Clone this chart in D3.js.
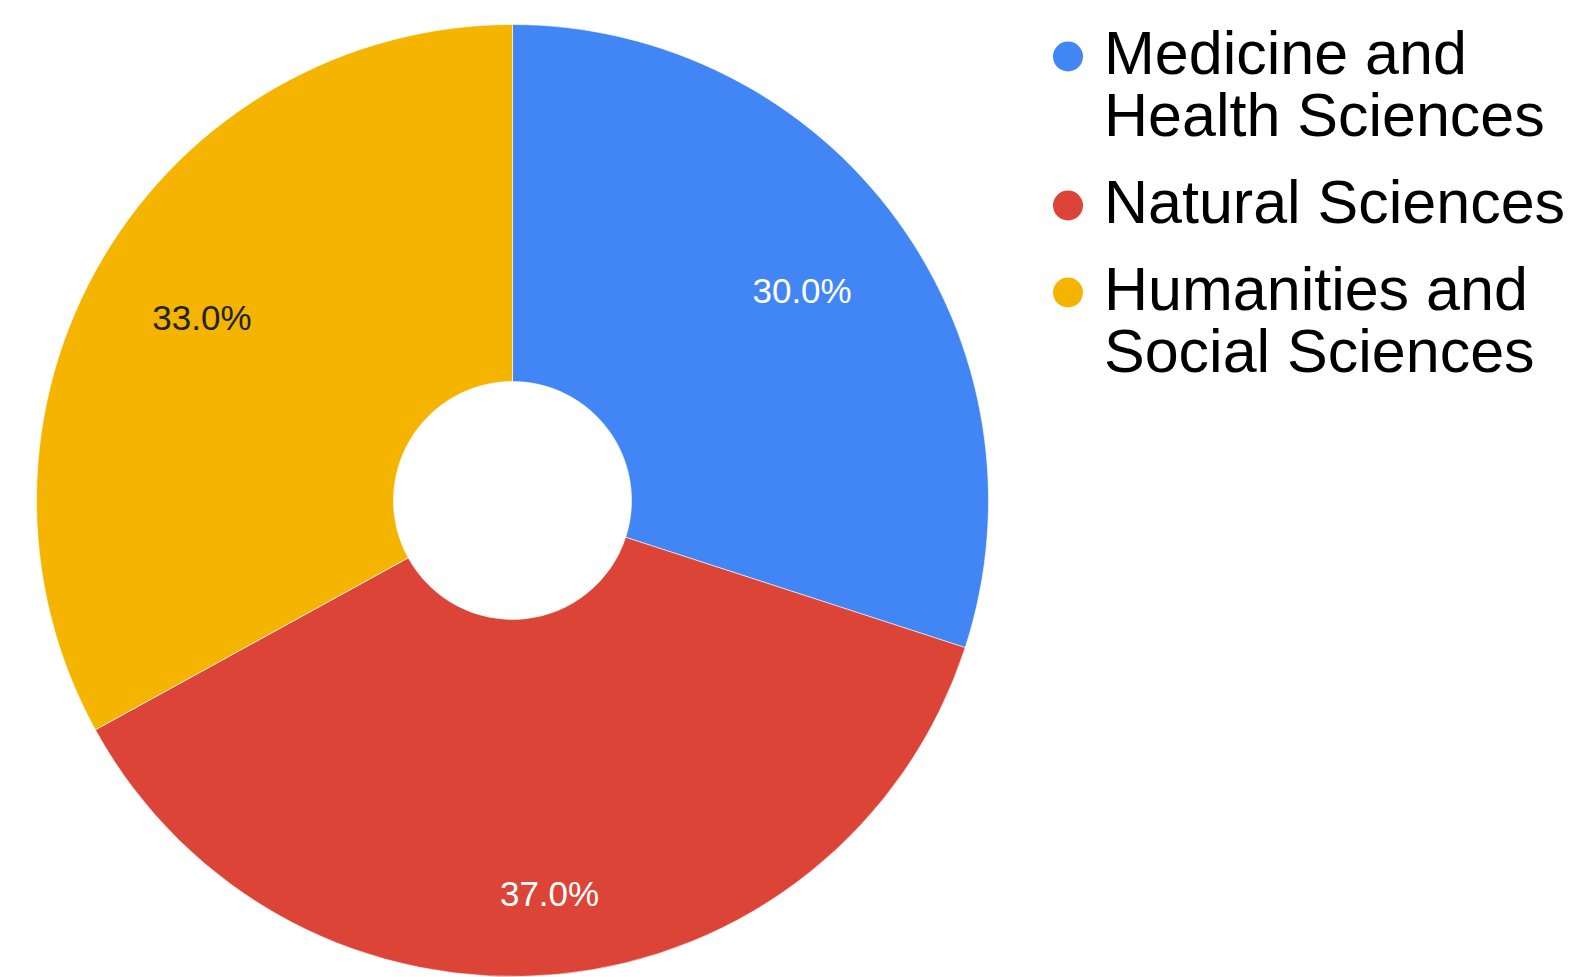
<!DOCTYPE html>
<html>
<head>
<meta charset="utf-8">
<script src="https://cdn.jsdelivr.net/npm/d3@7"></script>
<style>
  html, body { margin: 0; padding: 0; background: #fff; }
  svg { display: block; }
  text { font-family: "Liberation Sans", Arial, Helvetica, sans-serif; }
</style>
</head>
<body>
<script>
// ---- Data ----
const categories = ["Medicine and Health Sciences", "Natural Sciences", "Humanities and Social Sciences"];
const legendLines = [["Medicine and", "Health Sciences"], ["Natural Sciences"], ["Humanities and", "Social Sciences"]];
const values = [30.0, 37.0, 33.0];
const colors = ["#4285F4", "#DB4437", "#F4B400"];
const labelColors = ["#ffffff", "#ffffff", "#222222"];

// ---- Layout ----
const W = 1574, H = 977;
const cx = 512.5, cy = 500.5;
const outerR = 476, innerR = 119;
const labelRadiusFactor = [0.752, 0.827, 0.758];

const svg = d3.select("body").append("svg")
  .attr("width", W).attr("height", H);
svg.append("rect").attr("width", W).attr("height", H).attr("fill", "#fff");

const g = svg.append("g").attr("transform", `translate(${cx},${cy})`);

const pie = d3.pie().sort(null).value(d => d);
const arcs = pie(values);
const arc = d3.arc().innerRadius(innerR).outerRadius(outerR);

g.selectAll("path.slice").data(arcs).enter().append("path")
  .attr("class", "slice")
  .attr("d", arc)
  .attr("fill", (d, i) => colors[i])
  .attr("stroke", "#fff")
  .attr("stroke-width", 0.6);

const total = d3.sum(values);
const fmt = d3.format(".1%");

g.selectAll("text.lbl").data(arcs).enter().append("text")
  .attr("class", "lbl")
  .attr("transform", (d, i) => {
    const r = outerR * labelRadiusFactor[i];
    const c = d3.arc().innerRadius(r).outerRadius(r).centroid(d);
    return `translate(${c[0]},${c[1] + 1})`;
  })
  .attr("dy", "0.35em")
  .attr("text-anchor", "middle")
  .attr("font-size", 35)
  .attr("fill", (d, i) => labelColors[i])
  .text(d => fmt(d.value / total));

// ---- Legend ----
const legend = svg.append("g");
const legendX = 1068, textX = 1104;
const lineH = 62;
const firstBaselines = [74, 223, 310];

legendLines.forEach((lines, i) => {
  const b = firstBaselines[i];
  legend.append("circle")
    .attr("cx", legendX).attr("cy", b - 17.5)
    .attr("r", 15)
    .attr("fill", colors[i]);
  const t = legend.append("text")
    .attr("x", textX).attr("y", b)
    .attr("font-size", 61)
    .attr("fill", "#000");
  lines.forEach((ln, j) => {
    t.append("tspan").attr("x", textX).attr("y", b + j * lineH).text(ln);
  });
});
</script>
</body>
</html>
